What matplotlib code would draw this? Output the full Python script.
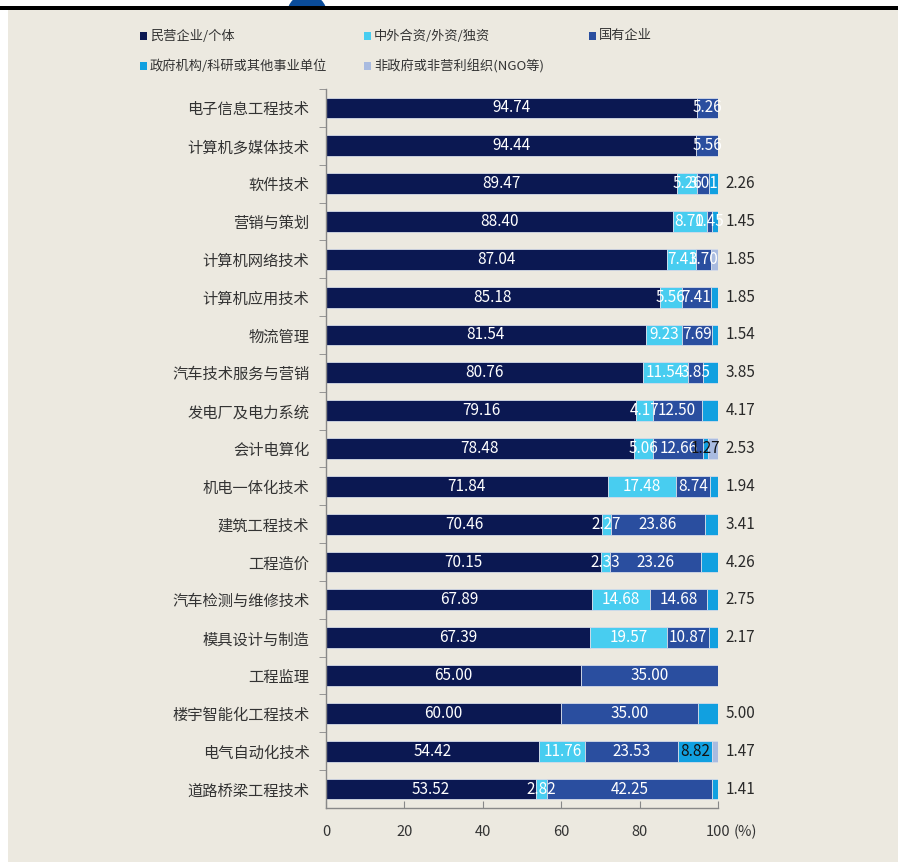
import matplotlib
matplotlib.use('Agg')
from matplotlib import pyplot as plt
from matplotlib import patches
import numpy as np

plt.rcParams['font.family'] = ['Noto Sans CJK SC', 'DejaVu Sans']

# categories, top to bottom
majors = ['电子信息工程技术', '计算机多媒体技术', '软件技术', '营销与策划', '计算机网络技术',
          '计算机应用技术', '物流管理', '汽车技术服务与营销', '发电厂及电力系统', '会计电算化',
          '机电一体化技术', '建筑工程技术', '工程造价', '汽车检测与维修技术', '模具设计与制造',
          '工程监理', '楼宇智能化工程技术', '电气自动化技术', '道路桥梁工程技术']

series_names = ['民营企业/个体', '中外合资/外资/独资', '国有企业',
                '政府机构/科研或其他事业单位', '非政府或非营利组织(NGO等)']

private = [94.74, 94.44, 89.47, 88.40, 87.04, 85.18, 81.54, 80.76, 79.16, 78.48,
           71.84, 70.46, 70.15, 67.89, 67.39, 65.00, 60.00, 54.42, 53.52]
foreign = [0, 0, 5.26, 8.70, 7.41, 5.56, 9.23, 11.54, 4.17, 5.06,
           17.48, 2.27, 2.33, 14.68, 19.57, 0, 0, 11.76, 2.82]
state = [5.26, 5.56, 3.01, 1.45, 3.70, 7.41, 7.69, 3.85, 12.50, 12.66,
         8.74, 23.86, 23.26, 14.68, 10.87, 35.00, 35.00, 23.53, 42.25]
gov = [0, 0, 2.26, 1.45, 0, 1.85, 1.54, 3.85, 4.17, 1.27,
       1.94, 3.41, 4.26, 2.75, 2.17, 0, 5.00, 8.82, 1.41]
ngo = [0, 0, 0, 0, 1.85, 0, 0, 0, 0, 2.53,
       0, 0, 0, 0, 0, 0, 0, 1.47, 0]

xticks = [0, 20, 40, 60, 80, 100]

colors = ['#0b1852', '#48cdf0', '#2a4e9f', '#11a0e0', '#a9bbe0']
bg = '#ece9e0'

W, H = 898, 864
fig = plt.figure(figsize=(W / 100, H / 100), dpi=100, facecolor='white')

# page decoration: blue circle, black rule, beige panel
fig.patches.append(patches.Ellipse((307 / W, 1 - 14 / H), 40 / W, 40 / H,
                                   transform=fig.transFigure, facecolor='#0a4c9a',
                                   edgecolor='none', zorder=0))
fig.patches.append(patches.Rectangle((8 / W, 1 - 862 / H), 1 - 8 / W, (862 - 10) / H,
                                     transform=fig.transFigure, facecolor=bg,
                                     edgecolor='none', zorder=1))
fig.patches.append(patches.Rectangle((0, 1 - 9.5 / H), 1, 3.5 / H,
                                     transform=fig.transFigure, facecolor='black',
                                     edgecolor='none', zorder=2))

ax = fig.add_axes([326 / W, 1 - 808 / H, 392 / W, (808 - 89) / H])
ax.set_facecolor('none')
ax.set_zorder(5)

data = [private, foreign, state, gov, ngo]
y = np.arange(len(majors))
left = np.zeros(len(majors))
for i, vals in enumerate(data):
    vals = np.array(vals, dtype=float)
    ax.barh(y, vals, left=left, height=0.55, color=colors[i],
            edgecolor='#d5dbe8', linewidth=0.6, zorder=2)
    left = left + vals

# value labels
for r in range(len(majors)):
    row = [d[r] for d in data]
    last = max(k for k in range(5) if row[k] > 0)
    start = 0.0
    for k in range(5):
        v = row[k]
        if v > 0:
            if k >= 3 and k == last:
                ax.text(102, r, '%.2f' % v, ha='left', va='center', fontsize=11,
                        color='#2a2a2a', clip_on=False, zorder=3)
            else:
                c = 'white' if k < 3 else '#111111'
                ax.text(start + v / 2, r, '%.2f' % v, ha='center', va='center',
                        fontsize=11, color=c, zorder=3)
        start += v

ax.set_xlim(0, 100)
ax.set_ylim(len(majors) - 0.5, -0.5)
ax.set_yticks(y)
ax.set_yticklabels(majors, fontsize=11, color='#333333')
ax.set_yticks(np.arange(-0.5, len(majors) - 0.5, 1), minor=True)
ax.tick_params(axis='y', which='major', length=0, pad=12)
ax.tick_params(axis='y', which='minor', length=5, color='#888888', direction='out')
ax.set_xticks(xticks)
ax.set_xticklabels([str(t) for t in xticks], fontsize=10.5, color='#333333')
ax.tick_params(axis='x', direction='in', length=5, color='#888888', pad=12)
ax.annotate('(%)', xy=(100, 0), xycoords=('data', 'axes fraction'),
            xytext=(11, -12), textcoords='offset points', ha='left', va='top',
            fontsize=10.5, color='#333333')
for s in ['top', 'right']:
    ax.spines[s].set_visible(False)
for s in ['left', 'bottom']:
    ax.spines[s].set_color('#888888')
    ax.spines[s].set_linewidth(1.0)

# legend, two rows
legend_pos = [(143, 36), (367, 36), (592, 36), (143, 66), (367, 66)]
for (px, py), name, c in zip(legend_pos, series_names, colors):
    fig.patches.append(patches.Rectangle(((px - 3.5) / W, 1 - (py + 3.5) / H), 7 / W, 7 / H,
                                         transform=fig.transFigure, facecolor=c,
                                         edgecolor='none', zorder=3))
    fig.text((px + 7) / W, 1 - py / H, name, ha='left', va='center', fontsize=9.5,
             color='#333333', zorder=3)

fig.savefig('out.png', dpi=100, facecolor='white')
